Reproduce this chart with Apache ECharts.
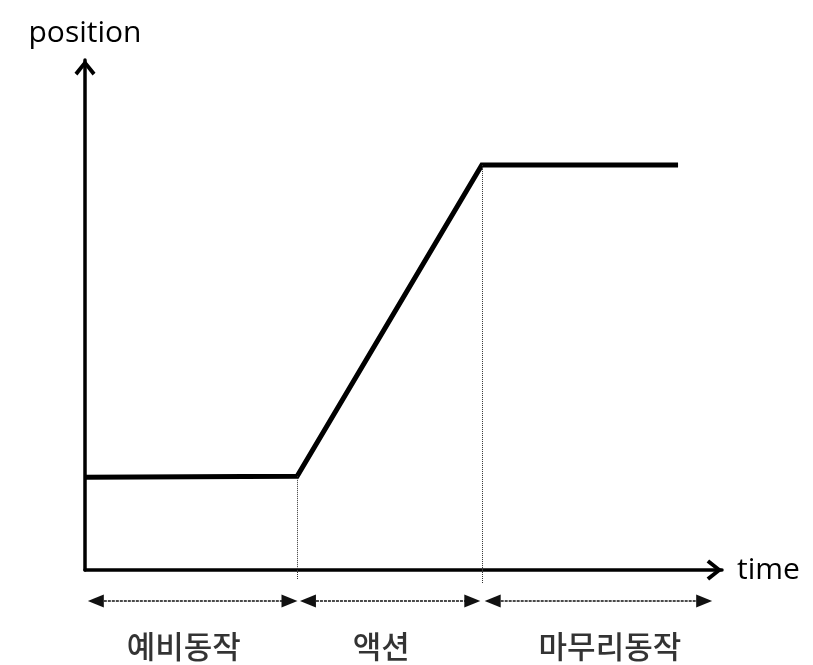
<!DOCTYPE html>
<html>
<head>
<meta charset="utf-8">
<script src="https://cdn.jsdelivr.net/npm/echarts@6/dist/echarts.min.js"></script>
<style>
html,body{margin:0;padding:0;background:#fff;}
#chart{width:813px;height:665px;}
</style>
</head>
<body>
<div id="chart"></div>
<script>
// Curve (time, position) in axis units 0..100
const curveTime = [0, 33.3, 62.3, 93.1];
const curvePosition = [18.2, 18.4, 79.4, 79.4];

// Phase names and their time spans
const phaseNames = ['예비동작', '액션', '마무리동작'];
const phaseStart = [0.5, 33.8, 62.8];
const phaseEnd = [33.3, 62.0, 98.4];
const phaseLabelTime = [15.5, 46.5, 82.4];

// Boundaries marked by dotted guides
const boundaryTime = [33.3, 62.3];
const boundaryPosition = [18.4, 79.4];

const axisName = { x: 'time', y: 'position' };

const chevron = 'path://M10,0 L20,12.6 L17.2,15 L10,5.8 L2.8,15 L0,12.6 Z';
const headHalf = 1.2; // arrow head half-length in time units

const chart = echarts.init(document.getElementById('chart'), null, { renderer: 'canvas' });

const curveData = curveTime.map((t, i) => [t, curvePosition[i]]);
const guideMain = boundaryTime.map((t, i) => [
  { coord: [t, boundaryPosition[i]] },
  { coord: [t, 0] }
]);
const guideExt = [10, 13];
const guideLower = boundaryTime.map((t, i) => [
  { coord: [t, 0] },
  { coord: [t, guideExt[i]] }
]);
const arrowY = 31;
const spanLines = phaseNames.map((n, i) => [
  { coord: [phaseStart[i] + headHalf, arrowY] },
  { coord: [phaseEnd[i] - headHalf, arrowY] }
]);
const labelData = phaseNames.map((n, i) => ({ value: [phaseLabelTime[i], 76], name: n }));

chart.setOption({
  animation: false,
  backgroundColor: '#ffffff',
  grid: [
    { left: 85, right: 91, top: 60, bottom: 95 },
    { left: 85, right: 91, top: 570, height: 95 }
  ],
  xAxis: [
    {
      type: 'value', gridIndex: 0, min: 0, max: 100,
      name: axisName.x, nameLocation: 'end', nameGap: 15,
      nameTextStyle: { fontFamily: 'Open Sans', fontSize: 30, color: '#000' },
      axisLine: {
        show: true, onZero: false,
        symbol: ['none', chevron], symbolSize: [21, 16], symbolOffset: [0, -7.5],
        lineStyle: { color: '#000', width: 3.5 }
      },
      axisTick: { show: false }, axisLabel: { show: false }, splitLine: { show: false }
    },
    {
      type: 'value', gridIndex: 1, min: 0, max: 100, show: false
    }
  ],
  yAxis: [
    {
      type: 'value', gridIndex: 0, min: 0, max: 100,
      name: axisName.y, nameLocation: 'end', nameGap: 12,
      nameTextStyle: { fontFamily: 'Open Sans', fontSize: 30, color: '#000', align: 'center' },
      axisLine: {
        show: true, onZero: false,
        symbol: ['none', chevron], symbolSize: [21, 16], symbolOffset: [0, -7.5],
        lineStyle: { color: '#000', width: 3.5 }
      },
      axisTick: { show: false }, axisLabel: { show: false }, splitLine: { show: false }
    },
    {
      type: 'value', gridIndex: 1, min: 0, max: 95, inverse: true, show: false
    }
  ],
  series: [
    {
      type: 'line', xAxisIndex: 0, yAxisIndex: 0,
      data: curveData, symbol: 'none', clip: false, silent: true,
      lineStyle: { color: '#000', width: 5, join: 'miter' },
      markLine: {
        silent: true, symbol: 'none', label: { show: false },
        lineStyle: { color: '#333', width: 1, type: 'dotted' },
        data: guideMain
      }
    },
    {
      type: 'scatter', xAxisIndex: 1, yAxisIndex: 1,
      data: labelData, symbolSize: 0, clip: false, silent: true,
      label: {
        show: true, position: 'inside', formatter: p => p.name,
        fontFamily: 'Noto Sans CJK KR', fontSize: 31, fontWeight: 500, color: '#000'
      },
      markLine: {
        silent: true, label: { show: false },
        symbol: ['triangle', 'triangle'], symbolSize: [13, 16],
        lineStyle: { color: '#111', width: 1.5, type: [3, 1] },
        itemStyle: { color: '#000' },
        data: spanLines
      }
    },
    {
      type: 'scatter', xAxisIndex: 1, yAxisIndex: 1,
      data: [], silent: true,
      markLine: {
        silent: true, symbol: 'none', label: { show: false },
        lineStyle: { color: '#333', width: 1, type: 'dotted' },
        data: guideLower
      }
    }
  ]
});
</script>
</body>
</html>
